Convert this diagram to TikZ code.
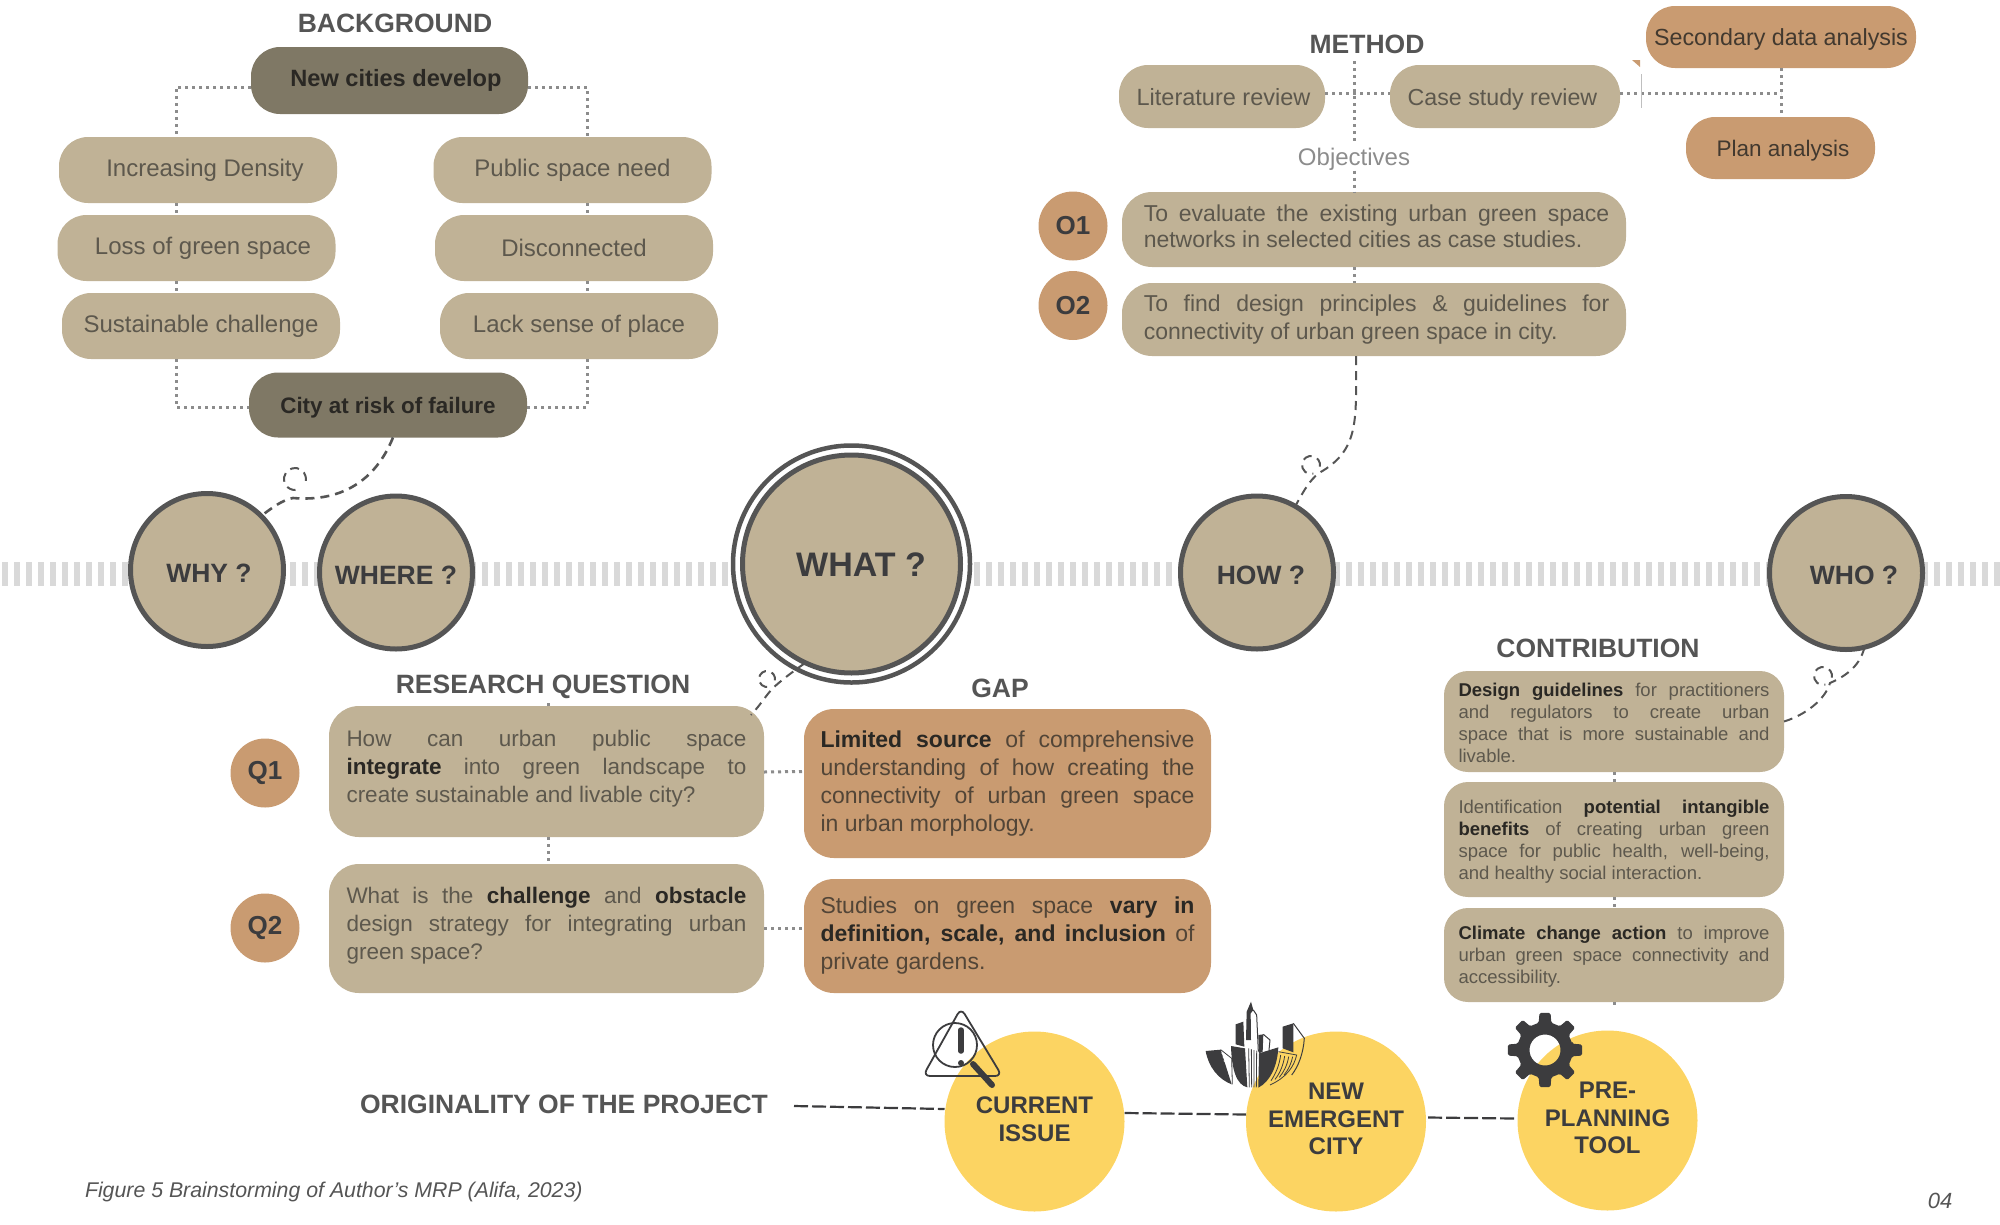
\documentclass[tikz,border=0pt]{standalone}
\usepackage{fontspec}
\setmainfont{Liberation Sans}
\usetikzlibrary{arrows.meta,positioning,calc}
\definecolor{tan}{HTML}{C0B296}
\definecolor{umber}{HTML}{7F7865}
\definecolor{clay}{HTML}{C99B71}
\definecolor{sun}{HTML}{FCD462}
\definecolor{ink}{HTML}{555555}
\definecolor{soft}{HTML}{5D584D}
\definecolor{deep}{HTML}{2A2824}
\definecolor{icon}{HTML}{3C3C3E}
\newcommand{\kw}[1]{\textbf{\textcolor{deep}{#1}}}
\newcommand{\fline}[2]{\makebox[#1pt][s]{#2}}
\newcommand{\lowtail}[1]{\rule[-#1pt]{0pt}{#1pt}}
\newcommand{\hightop}[1]{\rule{0pt}{#1pt}}
\newcommand{\loopmark}[3]{\draw[thindash] (#1,#2) ++(10:#3) arc[start angle=10,end angle=-285,radius=#3];}

\begin{document}
\begin{tikzpicture}[
		x=1pt,y=-1pt,
		every node/.style={outer sep=0pt,inner sep=0pt},
		head/.style={font=\fontsize{26.5}{30}\selectfont\bfseries, text=ink},
		pill/.style={rectangle, rounded corners=29pt, fill=tan, minimum width=278pt,
				minimum height=66pt, font=\fontsize{24}{28}\selectfont, text=soft},
		flat/.style={text height=17pt, text depth=0pt},
		darkpill/.style={pill, fill=umber, font=\fontsize{23.6}{28}\selectfont\bfseries, text=deep},
		claypill/.style={pill, flat, fill=clay, text=deep!85!clay},
		card/.style={rectangle, rounded corners=30pt, fill=tan, align=left,
				font=\fontsize{22.5}{28}\selectfont, text=soft},
		gapcard/.style={card, fill=clay, font=\fontsize{23}{28}\selectfont, text=deep!75!clay},
		small/.style={card, rounded corners=24pt, minimum width=340pt,
				font=\fontsize{18.5}{22}\selectfont},
		ask/.style={circle, draw=ink, line width=5pt, fill=tan, minimum size=153pt, text height=24pt,
				font=\fontsize{26.5}{30}\selectfont\bfseries, text=icon},
		badge/.style={circle, fill=clay, minimum size=69pt,
				font=\fontsize{26}{30}\selectfont\bfseries, text=icon},
		goal/.style={circle, fill=sun, minimum size=180pt, align=center,
				font=\fontsize{24}{27.5}\selectfont\bfseries, text=icon},
		dotline/.style={draw=black!45, line width=3pt, dash pattern=on 3pt off 4pt},
		thindash/.style={draw=ink, line width=2pt, dash pattern=on 9pt off 6pt},
		longdash/.style={draw=icon, line width=2.2pt, dash pattern=on 14pt off 4pt},
		band/.style={draw=black!15, line width=24pt, dash pattern=on 6pt off 6pt},
		]

		\useasboundingbox (0,0) rectangle (2000,1224);
		\coordinate (bandl) at (2,574);
		\coordinate (bandr) at (2000,574);
		\draw[band] (bandl) -- (bandr);

		% background
		\node[head] (hback) at (395,23) {BACKGROUND};
		\node[darkpill, minimum height=67pt, minimum width=277pt] (newc) at (389.5,80.5) {\hspace*{13pt}New cities develop};
		\node[pill] (dens) at (198,170) {\hspace*{14pt}Increasing Density};
		\node[pill, below=12pt of dens, xshift=-1.5pt] (loss) {\hspace*{13pt}Loss of green space};
		\node[pill, below=12pt of loss, xshift=4.5pt] (sust) {Sustainable challenge};
		\node[pill] (need) at (572.5,170) {Public space need};
		\node[pill, below=12pt of need, xshift=1.5pt] (disc) {Disconnected};
		\node[pill, below=12pt of disc, xshift=5pt] (lack) {Lack sense of place};
		\node[darkpill, flat, minimum height=65pt, font=\fontsize{22.4}{28}\selectfont\bfseries] (risk) at (388,405) {City at risk of failure};

		\draw[dotline] ([yshift=-6.5pt]newc.west) -| ([xshift=-22pt]dens.north);
		\draw[dotline] ([yshift=-6.5pt]newc.east) -| ([xshift=14.5pt]need.north);
		\draw[dotline] ([xshift=-22pt]dens.south) -- ++(0,12);
		\draw[dotline] ([xshift=-20pt]loss.south) -- ++(0,12);
		\draw[dotline] ([xshift=14.5pt]need.south) -- ++(0,12);
		\draw[dotline] ([xshift=13pt]disc.south) -- ++(0,12);
		\draw[dotline] ([xshift=-25pt]sust.south) |- ([yshift=-2pt]risk.west);
		\draw[dotline] ([xshift=8pt]lack.south) |- ([yshift=-2pt]risk.east);

		% questions on the line
		\node[ask] (why) at (207,570) {\hspace*{4pt}WHY ?};
		\node[ask] (where) at (396,572.5) {WHERE ?};
		\node[circle, draw=ink, line width=4.5pt, fill=white, minimum size=237pt] (whatring) at (851.5,564) {};
		\node[ask, minimum size=218pt, text height=24.7pt, font=\fontsize{34}{38}\selectfont\bfseries] (what) at (851.5,564) {\hspace*{19pt}WHAT ?};
		\node[ask] (how) at (1257,572.5) {\hspace*{8pt}HOW ?};
		\node[ask] (who) at (1846,573) {\hspace*{16pt}WHO ?};

		\draw[thindash, line width=2.6pt] ([xshift=5pt]risk.south) .. controls (375,482) and (340,502) .. (293,498) .. controls (282,500) and (272,508) .. (why.45);
		\loopmark{295}{479}{11}

		% method
		\node[head] (hmeth) at (1367,44) {METHOD};
		\node[pill, flat, minimum width=206pt, minimum height=63pt, font=\fontsize{23.5}{28}\selectfont] (lit) at (1222,96.5) {\hspace*{3pt}Literature review};
		\node[pill, flat, minimum width=230pt, minimum height=63pt, font=\fontsize{23.2}{28}\selectfont] (case) at (1505,96.5) {\hspace*{-5pt}Case study review};
		\node[claypill, minimum width=270pt, minimum height=62pt, font=\fontsize{23.3}{28}\selectfont] (secd) at (1781,37) {Secondary data analysis};
		\node[claypill, minimum width=189pt, minimum height=62pt, font=\fontsize{22.5}{28}\selectfont] (plan) at (1780.5,148) {\hspace*{5pt}Plan analysis};
		\node[flat, font=\fontsize{24}{28}\selectfont, text=black!45, inner sep=5pt] (objl) at (1354,157) {Objectives};
		\node[card, minimum width=504pt, minimum height=75pt, font=\fontsize{23}{26}\selectfont] (objone) at (1374,229.5) {\hspace*{5pt}\fline{465.5}{To evaluate the existing urban green space}\\\hspace*{5pt}networks in selected cities as case studies.\lowtail{7}};
		\node[card, minimum width=504pt, minimum height=73pt, font=\fontsize{23}{28}\selectfont] (objtwo) at (1374,319.5) {\hspace*{5pt}\fline{465.5}{To find design principles \& guidelines for}\\\hspace*{5pt}connectivity of urban green space in city.};
		\node[badge] (oone) at (1073,226) {O1};
		\node[badge] (otwo) at (1073,305.5) {O2};
		\coordinate (mtop) at (1354,61);

		\draw[dotline] (mtop) -- (objl.north);
		\draw[dotline] ([yshift=3.5pt]lit.east) -- ([yshift=3.5pt]case.west);
		\draw[dotline] ([yshift=3.5pt]case.east) -- ([yshift=3.5pt]case.east -| secd.south);
		\draw[dotline] (secd.south) -- (secd.south |- plan.north);
		\draw[dotline] (objl.south) -- (objl.south |- objone.north);
		\draw[dotline] ([xshift=-20pt]objone.south) -- ([xshift=-20pt]objtwo.north);
		\fill[clay] (1632,60) -- (1640,60) -- (1640,67) -- cycle;
		\draw[black!25, line width=.8pt] (1641.5,74) -- (1641.5,108);

		\draw[thindash] ([xshift=-18pt]objtwo.south) .. controls (1356,420) and (1360,450) .. (1319,473) .. controls (1310,480) and (1304,490) .. (how.60);
		\loopmark{1311}{465}{9}

		% research question
		\node[head] (hques) at (543,687) {RESEARCH QUESTION};
		\node[card, minimum width=435pt, minimum height=131pt] (qone) at (546.5,771.5) {\fline{400}{How can urban public space}\\\fline{400}{\kw{integrate} into green landscape to}\\create sustainable and livable city?\lowtail{10}};
		\node[card, minimum width=435pt, minimum height=129pt] (qtwo) at (546.5,928.5) {\fline{400}{What is the \kw{challenge} and \kw{obstacle}}\\\fline{400}{design strategy for integrating urban}\\green space?\lowtail{10}};
		\node[badge] (bqone) at (265,773) {Q1};
		\node[badge] (bqtwo) at (265,928) {Q2};

		% gap
		\node[head] (hgap) at (1000,688) {GAP};
		\node[gapcard, minimum width=407pt, minimum height=149pt] (gone) at (1007.5,783.5) {\fline{374}{\kw{Limited source} of comprehensive}\\\fline{374}{understanding of how creating the}\\\fline{374}{connectivity of urban green space}\\in urban morphology.};
		\node[gapcard, minimum width=407pt, minimum height=114pt] (gtwo) at (1007.5,936) {\fline{374}{Studies on green space \kw{vary in}}\\\fline{374}{\kw{definition, scale, and inclusion} of}\\private gardens.};

		\draw[dotline] ([yshift=-0.5pt]qone.east) -- (qone.east -| gone.west);
		\draw[dotline] (qtwo.east) -- (gtwo.west |- qtwo.east);
		\draw[dotline] ([xshift=1.5pt]qone.south) -- ([xshift=1.5pt]qtwo.north);
		\draw[dotline] ([xshift=1.5pt]qone.north) -- ++(0,-3);

		\draw[thindash] (what.245) .. controls (792,672) and (782,680) .. (774,687) .. controls (766,695) and (762,703) .. ([xshift=-13pt,yshift=-9pt]qone.north east);
		\loopmark{767}{679}{8}

		% contribution
		\node[head] (hcont) at (1598,648) {CONTRIBUTION};
		\node[small, minimum height=101pt] (cone) at (1614,721.5) {\hightop{17}\fline{311}{\kw{Design guidelines} for practitioners}\\\fline{311}{and regulators to create urban}\\\fline{311}{space that is more sustainable and}\\livable.};
		\node[small, minimum height=115pt] (ctwo) at (1614,839.5) {\hightop{17}\fline{311}{Identification \kw{potential intangible}}\\\fline{311}{\kw{benefits} of creating urban green}\\\fline{311}{space for public health, well-being,}\\and healthy social interaction.};
		\node[small, minimum height=94pt] (cthr) at (1614,955) {\hightop{17}\fline{311}{\kw{Climate change action} to improve}\\\fline{311}{urban green space connectivity and}\\accessibility.};

		\draw[dotline] (cone.south) -- (ctwo.north);
		\draw[dotline] (ctwo.south) -- (cthr.north);
		\draw[dotline] (cthr.south) -- ++(0,4);

		\draw[thindash] (who.284) .. controls (1860,665) and (1848,675) .. (1830,683) .. controls (1825,700) and (1805,715) .. (cone.east);
		\loopmark{1823}{676}{9}

		% originality
		\node[head] (hprog) at (564,1104.5) {ORIGINALITY OF THE PROJECT};
		\node[goal] (cur) at (1034.5,1121.5) {CURRENT\\ISSUE\lowtail{5}};
		\node[goal] (emer) at (1336,1121.5) {NEW\\EMERGENT\\CITY\lowtail{5}};
		\node[goal] (tool) at (1607.5,1120.5) {PRE-\\PLANNING\\TOOL\lowtail{5}};
		\coordinate (prend) at (794,1106);

		\draw[longdash] (prend) -- ([yshift=12.5pt]cur.west);
		\draw[longdash] ([yshift=8.5pt]cur.east) -- ([yshift=7pt]emer.west);
		\draw[longdash] ([yshift=4pt,xshift=2pt]emer.east) -- ([yshift=2pt,xshift=-3pt]tool.west);

		% warning icon
		\draw[icon, line width=1.8pt, rounded corners=7pt, line join=round] (961,1008) -- (1002,1076) -- (923,1076) -- cycle;
		\draw[icon, line width=1.8pt] (955,1045) circle[radius=22];
		\draw[icon, line width=6pt, line cap=round] (973,1064) -- (992,1085);
		\draw[icon, line width=5.5pt, line cap=round] (961,1030) -- (961,1051);
		\fill[icon] (961,1063) circle[radius=3];

		% city icon
		\begin{scope}[shift={(1190,990)},x=.3333pt,y=-.3333pt]
			\fill[icon] (47,183) -- (92,179) -- (125,283) .. controls (85,268) and (55,230) .. cycle;
			\draw[white, line width=.8pt] (95,190) -- (122,205) (98,200) -- (125,215) (101,212) -- (128,225);
			\draw[icon, line width=.8pt] (92,179) -- (125,205) -- (127,283);
			\fill[icon] (123,168) -- (165,175) -- (172,292) .. controls (140,285) and (125,240) .. cycle;
			\fill[icon] (137,103) -- (160,95) -- (163,170) -- (137,163) -- cycle;
			\fill[icon] (170,65) -- (183,35) -- (190,60) -- (182,70) -- (183,150) -- (168,150) -- cycle;
			\draw[icon, line width=1pt] (190,60) -- (200,75) -- (205,185);
			\draw[icon, line width=.8pt] (176,175) -- (178,292) (184,177) -- (185,292) (192,180) -- (192,292) (200,182) -- (199,292);
			\fill[icon] (207,190) -- (265,172) .. controls (262,230) and (240,275) .. (205,293) -- cycle;
			\fill[icon] (205,135) -- (220,133) -- (218,185) -- (207,190) -- cycle;
			\draw[icon, line width=1pt] (220,133) -- (240,150) -- (237,180);
			\fill[icon] (278,110) -- (310,100) -- (310,187) -- (278,175) -- cycle;
			\draw[icon, line width=1pt] (310,100) -- (343,145) .. controls (340,190) and (325,230) .. (305,255);
			\draw[icon, line width=.8pt] (265,185) -- (320,195) .. controls (312,230) and (290,262) .. (240,285);
			\draw[icon, line width=.8pt] (272,195) .. controls (268,225) and (258,250) .. (243,272) (284,198) .. controls (280,225) and (270,250) .. (255,268) (296,200) .. controls (292,225) and (282,245) .. (268,262) (308,200) .. controls (304,220) and (295,240) .. (282,255);
		\end{scope}

		% gear icon
		\begin{scope}[shift={(1545,1050)}]
			\fill[icon, even odd rule, rounded corners=1.5pt] (-13:28) \foreach \a in {0,45,...,315} { -- (\a-13:28) -- (\a-8.5:37.5) -- (\a+8.5:37.5) -- (\a+13:28) } -- cycle (0,0) circle[radius=15.5];
		\end{scope}

		% notes
		\node[font=\fontsize{21.3}{25}\selectfont\itshape, text=ink, anchor=west] (note) at (85,1191.5) {Figure 5 Brainstorming of Author's MRP (Alifa, 2023)};
		\node[font=\fontsize{22}{25}\selectfont\itshape, text=ink] (page) at (1940,1201) {04};

	\end{tikzpicture}
\end{document}
